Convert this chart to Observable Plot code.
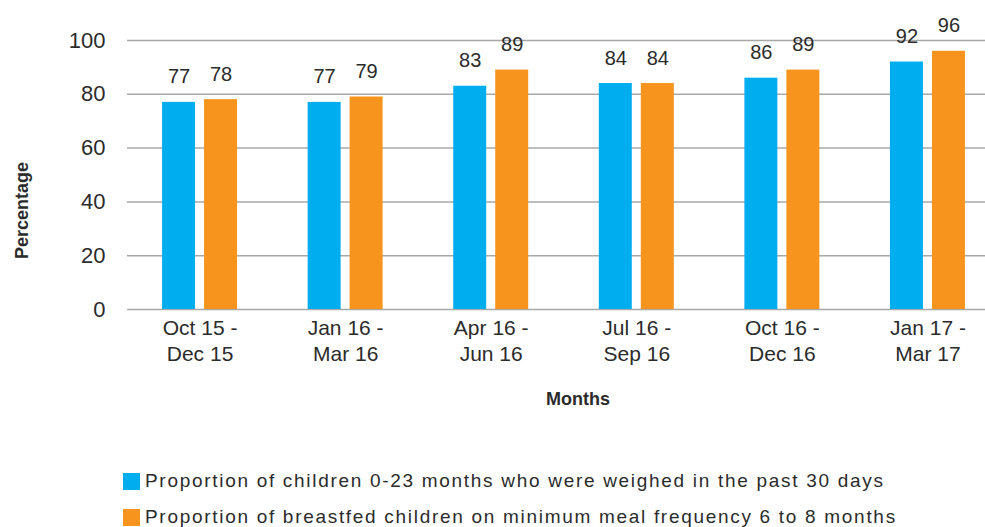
<!DOCTYPE html>
<html>
<head>
<meta charset="utf-8">
<script src="https://cdn.jsdelivr.net/npm/d3@7"></script>
<script src="https://cdn.jsdelivr.net/npm/@observablehq/plot@0.6"></script>
<style>
  html, body { margin: 0; padding: 0; background: #fff; overflow: hidden; }
  #wrap { width: 985px; height: 527px; overflow: hidden; position: relative; font-family: "Liberation Sans", Arial, sans-serif; color: #2b2b2b; }
  #chart { width: 1000px; }
  #chart svg { max-width: none !important; display: block; }
  #legend { position: absolute; left: 123px; top: 463px; }
  .row { display: flex; align-items: center; height: 36px; font-size: 19px; letter-spacing: 1.7px; white-space: nowrap; }
  .sw { width: 17px; height: 17px; margin-right: 5px; }
</style>
</head>
<body>
<div id="wrap">
  <div id="chart"></div>
  <div id="legend"></div>
</div>
<script>
const categories = ["Oct 15 -\nDec 15", "Jan 16 -\nMar 16", "Apr 16 -\nJun 16", "Jul 16 -\nSep 16", "Oct 16 -\nDec 16", "Jan 17 -\nMar 17"];
const weighed = [77, 77, 83, 84, 86, 92];
const mealFrequency = [78, 79, 89, 84, 89, 96];
const yTicks = [0, 20, 40, 60, 80, 100];
const seriesNames = [
  "Proportion of children 0-23 months who were weighed in the past 30 days",
  "Proportion of breastfed children on minimum meal frequency 6 to 8 months"
];
const colors = ["#00AEEF", "#F7941D"];

const rows = categories.map((c, i) => ({cat: c, weighed: weighed[i], meal: mealFrequency[i]}));

const chart = Plot.plot({
  width: 1000,
  height: 420,
  marginLeft: 127,
  marginRight: 0,
  marginTop: 40,
  marginBottom: 111,
  style: {fontFamily: "'Liberation Sans', Arial, sans-serif", color: "#2b2b2b", background: "white", overflow: "visible"},
  x: {domain: categories, paddingInner: 0.7734, paddingOuter: 0.385, round: false, axis: null},
  y: {domain: [0, 100], axis: null},
  marks: [
    Plot.ruleY(yTicks, {stroke: "#a8a8a8", strokeWidth: 1.5}),
    Plot.axisY(yTicks, {tickSize: 0, tickPadding: 22, fontSize: 22, label: null}),
    Plot.axisX({tickSize: 0, tickPadding: 7, fontSize: 21, lineHeight: 1.25, label: null, letterSpacing: 0.9}),
    Plot.barY(rows, {x: "cat", y: "weighed", fill: colors[0], dx: -21}),
    Plot.barY(rows, {x: "cat", y: "meal", fill: colors[1], dx: 21}),
    Plot.text(rows, {x: "cat", y: "weighed", text: d => String(d.weighed), dx: -21, dy: -19, lineAnchor: "bottom", fontSize: 20, letterSpacing: 0.5, fill: "#2b2b2b"}),
    Plot.text(rows, {x: "cat", y: "meal", text: d => String(d.meal), dx: 21, dy: -19, lineAnchor: "bottom", fontSize: 20, letterSpacing: 0.5, fill: "#2b2b2b"}),
    Plot.text([{label: "Percentage", y: 36.8}], {y: "y", text: "label", frameAnchor: "left", textAnchor: "middle", rotate: -90, dx: -105, fontSize: 18, fontWeight: "bold", letterSpacing: 0.9, fill: "#2b2b2b"}),
    Plot.text(["Months"], {frameAnchor: "bottom", dx: 14, dy: 95, fontSize: 18, fontWeight: "bold", letterSpacing: 0.8, fill: "#2b2b2b"})
  ]
});
document.getElementById("chart").appendChild(chart);

const legend = document.getElementById("legend");
seriesNames.forEach((name, i) => {
  const row = document.createElement("div");
  row.className = "row";
  const sw = document.createElement("div");
  sw.className = "sw";
  sw.style.background = colors[i];
  const t = document.createElement("span");
  t.textContent = name;
  row.appendChild(sw);
  row.appendChild(t);
  legend.appendChild(row);
});
</script>
</body>
</html>
